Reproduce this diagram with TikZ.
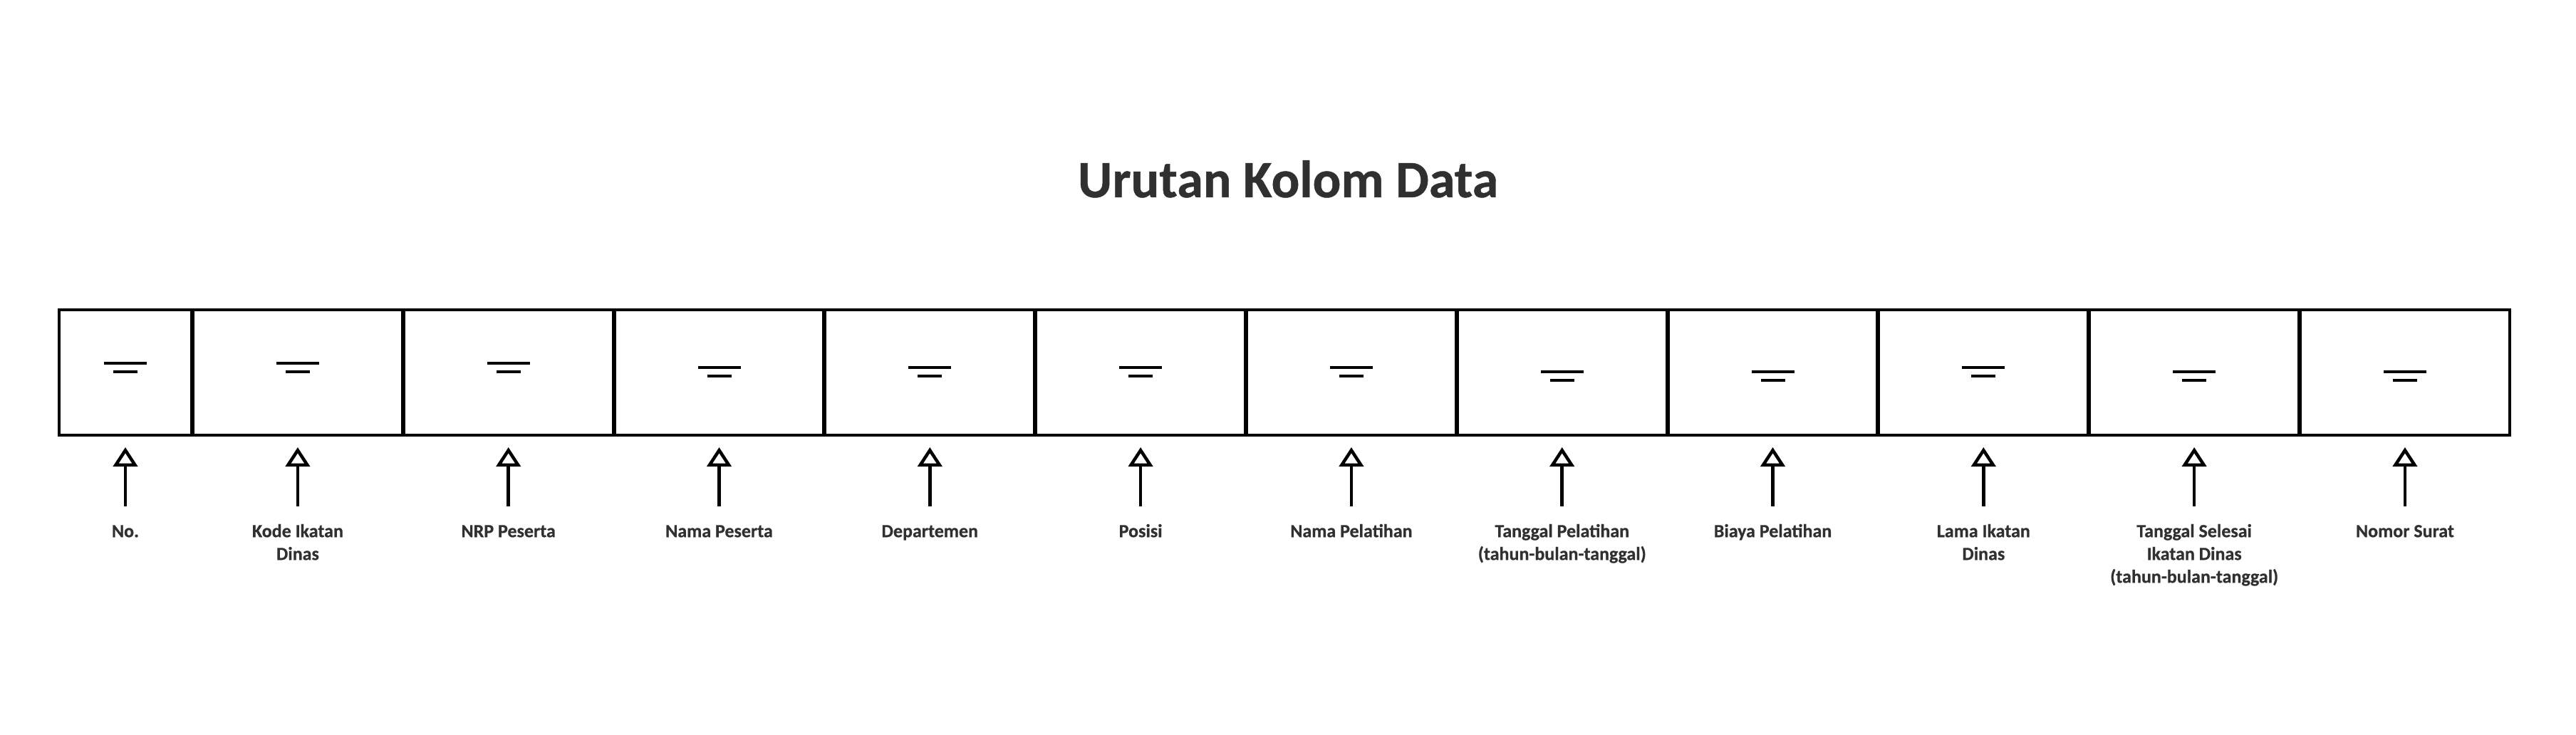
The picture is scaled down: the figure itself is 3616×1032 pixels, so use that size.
\documentclass[tikz,border=0pt]{standalone}
\usepackage{fontspec}
\setmainfont{Carlito}[BoldFeatures={FakeBold=0.6}]
\usetikzlibrary{arrows.meta}
\definecolor{txt}{HTML}{303030}
\begin{document}
\begin{tikzpicture}[x=1pt,y=-1pt,
  box/.style={draw=black, line width=4pt, minimum height=176pt, inner sep=0pt},
  bar/.style={line width=3.5pt},
  lbl/.style={font=\fontsize{26}{32}\selectfont\bfseries, text=txt, align=center, anchor=north, inner sep=0pt},
  conn/.style={line width=4.5pt, -{Triangle[open,length=27pt,width=34pt]}, shorten >=15pt, shorten <=21pt}]
\fill[white] (0,0) rectangle (3616,1032);
\useasboundingbox (0,0) rectangle (3616,1032);
\node[font=\fontsize{74}{80}\selectfont\bfseries, text=txt, anchor=base] (title) at (1808,277) {Urutan Kolom Data};
\foreach \i/\lev/\lab in {1/510/{No.}, 2/510/{Kode Ikatan\\Dinas}, 3/510/{NRP Peserta}, 4/516/{Nama Peserta}, 5/516/{Departemen}, 6/516/{Posisi}, 7/516/{Nama Pelatihan}, 8/522/{Tanggal Pelatihan\\(tahun-bulan-tanggal)}, 9/522/{Biaya Pelatihan}, 10/516/{Lama Ikatan\\Dinas}, 11/522/{Tanggal Selesai\\Ikatan Dinas\\(tahun-bulan-tanggal)}, 12/522/{Nomor Surat}} {
  \ifnum\i=1 \def\cx{176}\def\w{186}\else \pgfmathsetmacro\cx{270+295.8*(\i-1.5)}\def\w{293.8}\fi
  \node[box, minimum width=\w pt] (b\i) at (\cx,523) {};
  \draw[bar] (\cx-30,\lev) -- (\cx+30,\lev);
  \draw[bar] (\cx-17,\lev+12) -- (\cx+17,\lev+12);
  \node[lbl] (l\i) at (\cx,732) {\rule{0pt}{22pt}\lab};
  \draw[conn] (l\i.north) -- (b\i.south);
}
\end{tikzpicture}
\end{document}
